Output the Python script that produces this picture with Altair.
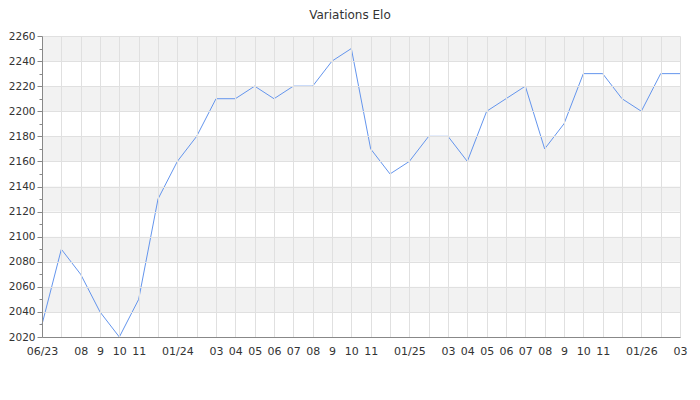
import altair as alt
import pandas as pd

months = [
    "2023-06", "2023-07", "2023-08", "2023-09", "2023-10", "2023-11", "2023-12",
    "2024-01", "2024-02", "2024-03", "2024-04", "2024-05", "2024-06", "2024-07",
    "2024-08", "2024-09", "2024-10", "2024-11", "2024-12",
    "2025-01", "2025-02", "2025-03", "2025-04", "2025-05", "2025-06", "2025-07",
    "2025-08", "2025-09", "2025-10", "2025-11", "2025-12",
    "2026-01", "2026-02", "2026-03",
]
elo = [
    2030, 2090, 2070, 2040, 2020, 2050, 2130,
    2160, 2180, 2210, 2210, 2220, 2210, 2220,
    2220, 2240, 2250, 2170, 2150,
    2160, 2180, 2180, 2160, 2200, 2210, 2220,
    2170, 2190, 2230, 2230, 2210,
    2200, 2230, 2230,
]
tick_labels = [
    "06/23", "", "08", "9", "10", "11", "",
    "01/24", "", "03", "04", "05", "06", "07",
    "08", "9", "10", "11", "",
    "01/25", "", "03", "04", "05", "06", "07",
    "08", "9", "10", "11", "",
    "01/26", "", "03",
]
major_ticks = [2020, 2040, 2060, 2080, 2100, 2120, 2140, 2160, 2180, 2200, 2220, 2240, 2260]
minor_ticks = [2030, 2050, 2070, 2090, 2110, 2130, 2150, 2170, 2190, 2210, 2230, 2250]
band_lo = [2040, 2080, 2120, 2160, 2200, 2240]
band_hi = [2060, 2100, 2140, 2180, 2220, 2260]

df = pd.DataFrame({"month": months, "elo": elo})
bands_df = pd.DataFrame({"lo": band_lo, "hi": band_hi})

FONT = "DejaVu Sans"
yscale = alt.Scale(domain=[2020, 2260], nice=False, zero=False)

months_js = "[" + ",".join("'%s'" % m for m in months) + "]"
labels_js = "[" + ",".join("'%s'" % l for l in tick_labels) + "]"
label_expr = f"{labels_js}[indexof({months_js}, datum.value)]"

major_axis = alt.Axis(
    orient="left", values=major_ticks, format="d", grid=True, gridColor="#e0e0e0",
    tickSize=5, tickColor="#888", domainColor="#888", labelPadding=2,
    labelFont=FONT, labelFontSize=10.5, labelColor="#333", title=None, zindex=1,
)
minor_axis = alt.Axis(
    orient="left", values=minor_ticks, grid=False, labels=False,
    tickSize=3, tickColor="#888", domain=False, title=None, zindex=1,
)
x_axis = alt.Axis(
    labelExpr=label_expr, labelAngle=0, labelOverlap=False, grid=True,
    gridColor="#e0e0e0", ticks=False, domainColor="#888", labelPadding=8,
    labelFont=FONT, labelFontSize=11, labelColor="#333", title=None, zindex=1,
)

bands = alt.Chart(bands_df).mark_rect(color="#f2f2f2").encode(
    y=alt.Y("lo:Q", scale=yscale, axis=major_axis),
    y2="hi:Q",
)
minor = alt.Chart(df).mark_point(opacity=0).encode(
    y=alt.Y("elo:Q", scale=yscale, axis=minor_axis),
)
line = alt.Chart(df).mark_line(color="#6495ed", strokeWidth=1).encode(
    x=alt.X("month:O", sort=None, scale=alt.Scale(type="point", padding=0), axis=x_axis),
    y=alt.Y("elo:Q", scale=yscale, axis=None),
)

chart = alt.layer(bands, minor, line).resolve_axis(y="independent").properties(
    width=638,
    height=301,
    autosize=alt.AutoSizeParams(type="none"),
    padding={"left": 34, "top": 28, "right": 12, "bottom": 55},
    title=alt.TitleParams(
        "Variations Elo", font=FONT, fontSize=12, fontWeight="normal",
        color="#333", anchor="middle", frame="group", dx=-11, offset=9,
    ),
).configure_view(stroke=None)

chart.save("out.html", embed_options={"renderer": "svg", "actions": False})
